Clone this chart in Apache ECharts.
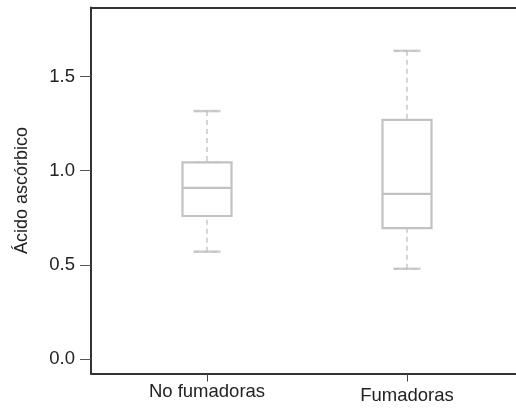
<!DOCTYPE html>
<html>
<head>
<meta charset="utf-8">
<script src="https://cdn.jsdelivr.net/npm/echarts@6/dist/echarts.min.js"></script>
<style>
html,body{margin:0;padding:0;background:#fff;}
#c{width:516px;height:408px;}
</style>
</head>
<body>
<div id="c"></div>
<script>
// Data
const categories = ['No fumadoras', 'Fumadoras'];
const whiskerLow = [0.570, 0.479];
const q1 = [0.759, 0.695];
const median = [0.908, 0.877];
const q3 = [1.044, 1.269];
const whiskerHigh = [1.316, 1.636];
const yTicks = [0, 0.5, 1.0, 1.5];
const yMin = -0.077, yMax = 1.866;

const fullBoxes = categories.map((c, i) => [whiskerLow[i], q1[i], median[i], q3[i], whiskerHigh[i]]);
const solidBoxes = categories.map((c, i) => [q1[i], q1[i], median[i], q3[i], q3[i]]);
const caps = [];
categories.forEach((c, i) => { caps.push([c, whiskerLow[i]]); caps.push([c, whiskerHigh[i]]); });

const FONT = 'Liberation Sans, Arial, sans-serif';
const boxColor = '#c2c2c2';

const chart = echarts.init(document.getElementById('c'), null, {renderer: 'canvas'});
chart.setOption({
  animation: false,
  backgroundColor: '#fff',
  grid: [
    {left: 91, right: -10, top: 7.5, height: 366},
    {left: 107, width: 400, top: 7.5, height: 366}
  ],
  xAxis: [
    {gridIndex: 0, type: 'value', min: 0, max: 1, position: 'bottom',
     axisLine: {show: true, onZero: false, lineStyle: {color: '#333', width: 2}},
     axisTick: {show: false}, axisLabel: {show: false}, splitLine: {show: false}},
    {gridIndex: 0, type: 'value', min: 0, max: 1, position: 'top',
     axisLine: {show: true, onZero: false, lineStyle: {color: '#333', width: 2}},
     axisTick: {show: false}, axisLabel: {show: false}, splitLine: {show: false}},
    {gridIndex: 1, type: 'category', data: categories, position: 'bottom',
     axisLine: {show: false, onZero: false},
     axisTick: {show: true, alignWithLabel: true, length: 8, lineStyle: {color: '#444', width: 1}},
     axisLabel: {show: true, margin: 9, color: '#222', fontSize: 18.5, fontFamily: FONT,
       formatter: (v, i) => i === 1 ? '{b|' + v + '}' : '{a|' + v + '}',
       rich: {a: {fontSize: 18.5, fontFamily: FONT, color: '#222'},
              b: {fontSize: 18.5, fontFamily: FONT, color: '#222', padding: [4, 0, 0, 0]}}},
     splitLine: {show: false}},
    {gridIndex: 1, type: 'category', data: categories, show: false}
  ],
  yAxis: [
    {gridIndex: 0, type: 'value', min: yMin, max: yMax,
     name: 'Ácido ascórbico', nameLocation: 'middle', nameGap: 60,
     nameTextStyle: {fontSize: 18, fontFamily: FONT, color: '#222'},
     axisLine: {show: true, onZero: false, lineStyle: {color: '#333', width: 2}},
     axisTick: {show: true, length: 11, customValues: yTicks, lineStyle: {color: '#555', width: 1}},
     axisLabel: {show: true, customValues: yTicks, margin: 16, color: '#222', fontSize: 18.5, fontFamily: FONT,
       formatter: v => Number(v).toFixed(1)},
     splitLine: {show: false}},
    {gridIndex: 1, type: 'value', min: yMin, max: yMax, show: false, splitLine: {show: false}}
  ],
  series: [
    {type: 'boxplot', xAxisIndex: 3, yAxisIndex: 1, data: fullBoxes, boxWidth: [26, 26],
     silent: true, z: 2,
     itemStyle: {color: 'rgba(0,0,0,0)', borderColor: '#c8c8c8', borderWidth: 1.5, borderType: [5, 4]},
     emphasis: {disabled: true}},
    {type: 'boxplot', xAxisIndex: 2, yAxisIndex: 1, data: solidBoxes, boxWidth: [49, 49],
     silent: true, z: 3,
     itemStyle: {color: '#ffffff', borderColor: boxColor, borderWidth: 2.2},
     emphasis: {disabled: true}},
    {type: 'scatter', xAxisIndex: 2, yAxisIndex: 1, data: caps, symbol: 'rect', symbolSize: [27, 2.5],
     silent: true, z: 4, itemStyle: {color: boxColor}, emphasis: {disabled: true}}
  ]
});
</script>
</body>
</html>
